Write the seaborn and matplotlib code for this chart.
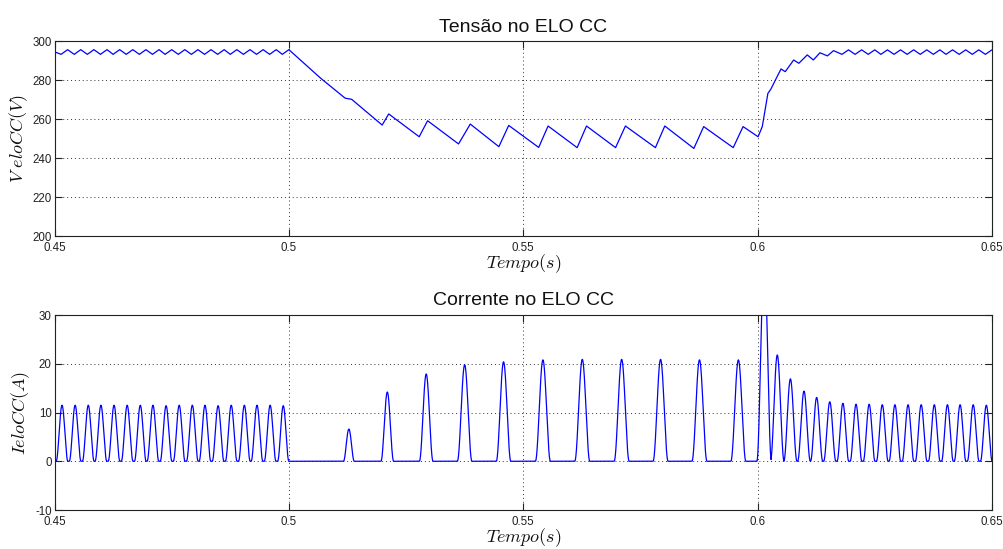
import numpy as np
import pandas as pd
import matplotlib
matplotlib.use("Agg")
import matplotlib.pyplot as plt
import seaborn as sns

# ---------------- DC-link voltage: corner points of the ripple / transient ----------------
v_time = [
    0.4500, 0.4514, 0.4528, 0.4542, 0.4556, 0.4570, 0.4584, 0.4598, 0.4612, 0.4625,
    0.4639, 0.4653, 0.4667, 0.4681, 0.4695, 0.4709, 0.4723, 0.4736, 0.4750, 0.4764,
    0.4778, 0.4792, 0.4806, 0.4820, 0.4834, 0.4848, 0.4862, 0.4875, 0.4889, 0.4903,
    0.4917, 0.4931, 0.4945, 0.4959, 0.4973, 0.4986, 0.5000,
    0.5068, 0.5120, 0.5134, 0.5199, 0.5213, 0.5278, 0.5296, 0.5362, 0.5387,
    0.5448, 0.5469, 0.5533, 0.5553, 0.5615, 0.5635, 0.5697, 0.5718, 0.5782, 0.5802,
    0.5864, 0.5885, 0.5948, 0.5969, 0.6001,
    0.6010, 0.6022, 0.6028, 0.6038, 0.6050, 0.6059, 0.6077, 0.6088, 0.6106, 0.6119,
    0.6133, 0.6149, 0.6162,
    0.6180, 0.6194, 0.6208, 0.6222, 0.6236, 0.6250, 0.6263, 0.6277, 0.6291, 0.6305,
    0.6319, 0.6333, 0.6347, 0.6361, 0.6375, 0.6389, 0.6402, 0.6416, 0.6430, 0.6444,
    0.6458, 0.6472, 0.6486, 0.6500,
]
v_value = [
    294.6, 293.3, 295.7, 293.3, 295.7, 293.3, 295.7, 293.3, 295.7, 293.3,
    295.7, 293.3, 295.7, 293.3, 295.7, 293.3, 295.7, 293.3, 295.7, 293.3,
    295.7, 293.3, 295.7, 293.3, 295.7, 293.3, 295.7, 293.3, 295.7, 293.3,
    295.7, 293.3, 295.7, 293.3, 295.7, 293.3, 295.7,
    281.0, 270.8, 270.2, 257.0, 262.7, 251.0, 259.2, 247.3, 257.5,
    245.9, 256.8, 245.5, 256.5, 245.4, 256.5, 245.4, 256.5, 245.4, 256.5,
    245.0, 256.2, 245.4, 256.2, 251.0,
    256.2, 273.3, 275.3, 280.1, 285.8, 284.4, 290.4, 288.7, 293.0, 290.4,
    294.1, 292.5, 295.2,
    293.3, 295.6, 293.3, 295.6, 293.3, 295.6, 293.3, 295.6, 293.3, 295.6,
    293.3, 295.6, 293.3, 295.6, 293.3, 295.6, 293.3, 295.6, 293.3, 295.6,
    293.3, 295.6, 293.3, 295.6,
]

# ---------------- DC-link current: rectifier conduction pulses ----------------
pulse_time = [
    0.4516, 0.4544, 0.4572, 0.4599, 0.4627, 0.4655, 0.4683, 0.4710, 0.4738, 0.4766,
    0.4794, 0.4821, 0.4849, 0.4877, 0.4905, 0.4932, 0.4960, 0.4988,
    0.5128, 0.5210, 0.5293, 0.5375, 0.5458, 0.5542, 0.5626, 0.5710, 0.5793, 0.5876,
    0.5959,
    0.6014, 0.6042, 0.6070, 0.6099, 0.6126, 0.6154, 0.6182, 0.6210, 0.6238, 0.6266,
    0.6293, 0.6321, 0.6349, 0.6377, 0.6405, 0.6432, 0.6460, 0.6488,
]
pulse_peak = [
    11.5, 11.5, 11.5, 11.5, 11.5, 11.5, 11.5, 11.5, 11.4, 11.5,
    11.5, 11.5, 11.4, 11.5, 11.5, 11.5, 11.5, 11.4,
    6.6, 14.2, 17.9, 19.8, 20.4, 20.8, 20.9, 20.9, 20.9, 20.8,
    20.8,
    42.0, 21.8, 16.9, 14.4, 13.1, 12.2, 11.9, 11.7, 11.7, 11.6,
    11.6, 11.6, 11.6, 11.6, 11.6, 11.6, 11.6, 11.5,
]
pulse_width = [
    0.0025, 0.0025, 0.0025, 0.0025, 0.0025, 0.0025, 0.0025, 0.0025, 0.0025, 0.0025,
    0.0025, 0.0025, 0.0025, 0.0025, 0.0025, 0.0025, 0.0025, 0.0024,
    0.0023, 0.0027, 0.0029, 0.0031, 0.0031, 0.0032, 0.0032, 0.0032, 0.0032, 0.0032,
    0.0032,
    0.0031, 0.0029, 0.0028, 0.0027, 0.0026, 0.0026, 0.0025, 0.0025, 0.0025, 0.0025,
    0.0025, 0.0025, 0.0025, 0.0025, 0.0025, 0.0025, 0.0025, 0.0025,
]

x_ticks = [0.45, 0.5, 0.55, 0.6, 0.65]
x_ticklabels = ["0.45", "0.5", "0.55", "0.6", "0.65"]
v_ticks = [200, 220, 240, 260, 280, 300]
i_ticks = [-10, 0, 10, 20, 30]

# Sample the current waveform: each conduction pulse is a sin^2 lobe
t = np.linspace(0.45, 0.65, 20001)
i_wave = np.zeros_like(t)
for c, a, w in zip(pulse_time, pulse_peak, pulse_width):
    m = np.abs(t - c) < w / 2
    i_wave[m] = np.maximum(i_wave[m], a * np.sin(np.pi * (t[m] - c + w / 2) / w) ** 2)

v_df = pd.DataFrame({"t": v_time, "v": v_value})
i_df = pd.DataFrame({"t": t, "i": i_wave})

sns.set_theme(style="white")
plt.rcParams["font.family"] = ["Liberation Sans", "DejaVu Sans"]
plt.rcParams["mathtext.fontset"] = "cm"

fig = plt.figure(figsize=(10.04, 5.49), dpi=100)
ax1 = fig.add_axes([0.0543, 0.570, 0.9337, 0.3548])
ax2 = fig.add_axes([0.0543, 0.0710, 0.9337, 0.3552])

line_kw = dict(color="#0000ff", linewidth=0.9, estimator=None, sort=False, legend=False)
sns.lineplot(data=v_df, x="t", y="v", ax=ax1, **line_kw)
sns.lineplot(data=i_df, x="t", y="i", ax=ax2, **line_kw)


def style_axes(ax, yticks, ylabel, title):
    ax.set_xlim(0.45, 0.65)
    ax.set_ylim(yticks[0], yticks[-1])
    ax.set_xticks(x_ticks)
    ax.set_xticklabels(x_ticklabels)
    ax.set_yticks(yticks)
    ax.set_yticklabels([str(v) for v in yticks], va="center_baseline")
    ax.tick_params(direction="in", length=5, width=0.8, color="#222222",
                   labelsize=8.3, labelcolor="#222222", top=True, right=True,
                   bottom=True, left=True, pad=2)
    ax.tick_params(axis="x", pad=4)
    ax.grid(True, linestyle=(0, (1, 3)), color="#333333", linewidth=0.7)
    for s in ax.spines.values():
        s.set_visible(True)
        s.set_color("#222222")
        s.set_linewidth(0.8)
    ax.set_xlabel(r"$Tempo(s)$", fontsize=13, labelpad=-1, color="#111111")
    ax.set_ylabel(ylabel, fontsize=13, labelpad=2, color="#111111")
    ax.set_title(title, fontsize=14, pad=7, color="#111111")


style_axes(ax1, v_ticks, r"$V\ eloCC(V)$", "Tensão no ELO CC")
style_axes(ax2, i_ticks, r"$IeloCC(A)$", "Corrente no ELO CC")

fig.savefig("out.png", dpi=100, facecolor="white")
